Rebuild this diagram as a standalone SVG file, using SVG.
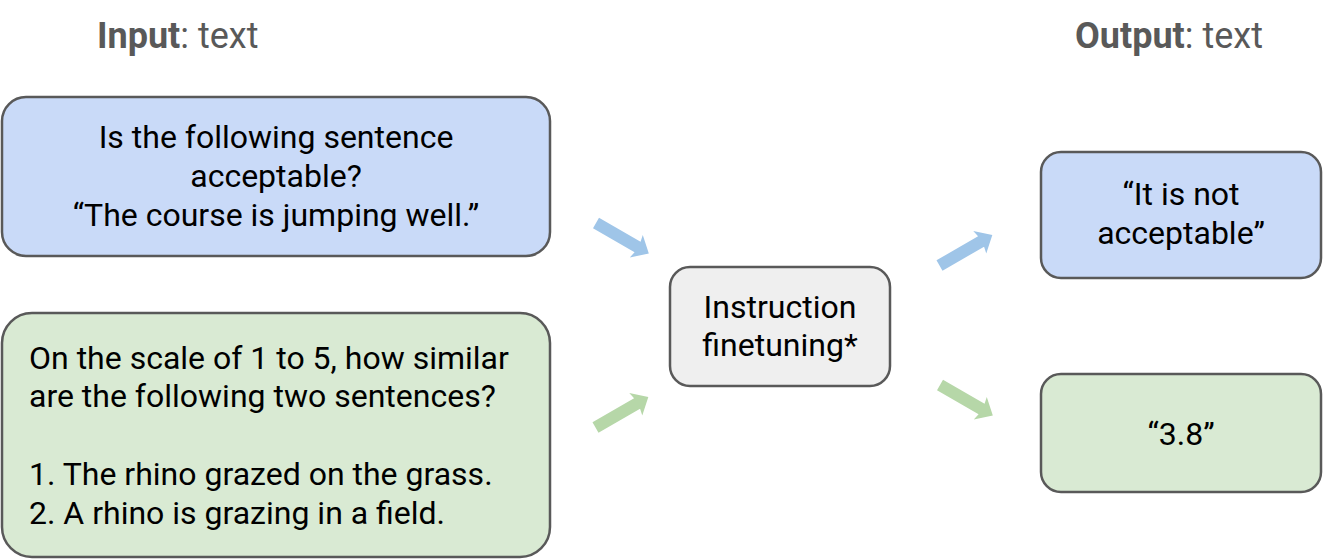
<svg xmlns="http://www.w3.org/2000/svg" xmlns:xlink="http://www.w3.org/1999/xlink" width="1324" height="560" viewBox="0 0 1324 560">
<style>
.box{stroke:#595959;stroke-width:2.5}
.blue{fill:#c9daf8}
.green{fill:#d9ead3}
.grey{fill:#efefef}
.t{font-family:Roboto,"Liberation Sans",sans-serif;font-size:32px;fill:#000}
.c{text-anchor:middle}
.hdr{font-family:Roboto,"Liberation Sans",sans-serif;font-size:36px;fill:#595959}
</style>
<defs>
<path id="arr" d="M0,-6 L48,-6 L46.5,-13 L61,0 L46.5,13 L48,6 L0,6 Z"/>
</defs>
<rect width="1324" height="560" fill="#fff"/>
<g id="hdr-in"><text class="hdr" x="97" y="48"><tspan font-weight="bold">Input</tspan>: text</text></g>
<g id="hdr-out"><text class="hdr" x="1075" y="48"><tspan font-weight="bold">Output</tspan>: text</text></g>
<g id="in-blue">
<rect class="box blue" x="2" y="97" width="548" height="159" rx="24"/>
<text class="t c" x="276" y="148">Is the following sentence</text>
<text class="t c" x="276" y="187">acceptable?</text>
<text class="t c" x="276" y="226">“The course is jumping well.”</text>
</g>
<g id="in-green">
<rect class="box green" x="2" y="313" width="548" height="244" rx="30"/>
<text class="t" x="29" y="369">On the scale of 1 to 5, how similar</text>
<text class="t" x="29" y="407">are the following two sentences?</text>
<text class="t" x="29" y="485">1. The rhino grazed on the grass.</text>
<text class="t" x="29" y="524">2. A rhino is grazing in a field.</text>
</g>
<g id="ift">
<rect class="box grey" x="670" y="267" width="220" height="119" rx="20"/>
<text class="t c" x="780" y="318">Instruction</text>
<text class="t c" x="780" y="356">finetuning*</text>
</g>
<g id="out-blue">
<rect class="box blue" x="1041" y="152" width="280" height="126" rx="20"/>
<text class="t c" x="1181" y="205">“It is not</text>
<text class="t c" x="1181" y="244">acceptable”</text>
</g>
<g id="out-green">
<rect class="box green" x="1041" y="374" width="280" height="118" rx="20"/>
<text class="t c" x="1181" y="445">“3.8”</text>
</g>
<g id="connectors">
<use xlink:href="#arr" fill="#9fc5e8" transform="translate(596,223) rotate(30)"/>
<use xlink:href="#arr" fill="#b6d7a8" transform="translate(595.5,427.5) rotate(-30)"/>
<use xlink:href="#arr" fill="#9fc5e8" transform="translate(939.5,265.5) rotate(-30)"/>
<use xlink:href="#arr" fill="#b6d7a8" transform="translate(940,385) rotate(30)"/>
</g>
</svg>
